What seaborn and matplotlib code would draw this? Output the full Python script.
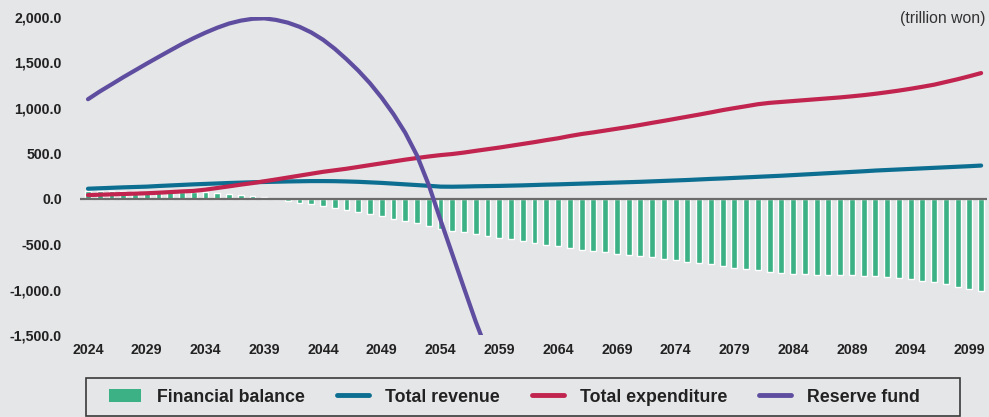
import numpy as np
import pandas as pd
import seaborn as sns
import matplotlib.pyplot as plt
from matplotlib.patches import Patch, Rectangle
from matplotlib.lines import Line2D

# anos 2024..2100
years = list(range(2024, 2101))

balance = [88, 86, 82, 82, 80, 76, 74, 74, 74, 76,
           78, 62, 50, 40, 28, 16, -8, -24, -45, -58,
           -80, -100, -126, -147, -169, -190, -222, -245, -270, -300,
           -332, -358, -370, -392, -406, -428, -447, -469, -491, -505,
           -524, -538, -560, -571, -590, -604, -615, -626, -637, -659,
           -670, -692, -703, -722, -744, -758, -769, -788, -802, -813,
           -824, -824, -835, -835, -835, -835, -846, -846, -857, -868,
           -879, -901, -912, -934, -967, -989, -1011]

revenue = [110, 115, 120, 125, 129, 133, 140, 146, 152, 158,
           163, 168, 173, 177, 181, 184, 187, 190, 192, 194,
           194, 193, 190, 186, 180, 174, 166, 158, 150, 142,
           133, 132, 134, 137, 139, 141, 144, 147, 151, 155,
           158, 162, 166, 170, 174, 178, 182, 186, 191, 196,
           201, 206, 212, 218, 223, 229, 235, 241, 247, 253,
           260, 267, 274, 281, 288, 295, 302, 310, 316, 322,
           328, 334, 340, 346, 352, 358, 365]

expenditure = [40, 44, 48, 52, 56, 60, 66, 73, 80, 86,
               100, 118, 136, 155, 172, 192, 212, 233, 254, 275,
               296, 313, 330, 350, 370, 390, 410, 430, 448, 465,
               480, 492, 508, 527, 545, 563, 583, 603, 623, 645,
               665, 690, 712, 730, 750, 770, 790, 812, 835, 857,
               880, 903, 926, 950, 975, 997, 1018, 1040, 1055, 1065,
               1075, 1085, 1095, 1105, 1115, 1127, 1140, 1155, 1172, 1190,
               1210, 1232, 1255, 1285, 1315, 1348, 1383]

# fundo de reserva so ate 2058 (depois se esgota)
reserve_years = list(range(2024, 2059))
reserve = [1095, 1180, 1258, 1337, 1412, 1487, 1560, 1632, 1703, 1768,
           1828, 1882, 1928, 1960, 1980, 1985, 1968, 1938, 1892, 1830,
           1750, 1650, 1535, 1410, 1270, 1110, 930, 725, 475, 150,
           -235, -610, -985, -1355, -1690]

tick_years = list(range(2024, 2100, 5))

bg = '#e5e6e8'
green = '#3bb185'
blue = '#0c6e91'
red = '#c1244f'
purple = '#5f4ea0'

sns.set_style('white', {'axes.facecolor': bg, 'figure.facecolor': bg})
plt.rcParams['font.family'] = ['Liberation Sans', 'DejaVu Sans']

W, H = 989, 417
fig = plt.figure(figsize=(W / 100, H / 100), dpi=100)
ax = fig.add_axes([80 / W, 1 - 335 / H, 907 / W, 318 / H])

sns.barplot(x=years, y=balance, native_scale=True, width=0.5, color=green,
            saturation=1, ax=ax, zorder=2)
ax.axhline(0, color='#6b6b6b', lw=1.6, zorder=3)
sns.lineplot(x=years, y=revenue, color=blue, lw=3, ax=ax, zorder=4)
sns.lineplot(x=years, y=expenditure, color=red, lw=3, ax=ax, zorder=5)
sns.lineplot(x=reserve_years, y=reserve, color=purple, lw=3, ax=ax, zorder=6)

ax.set_xlim(2023.32, 2100.5)
ax.set_ylim(-1500, 2000)
ax.set_yticks(np.arange(-1500, 2001, 500))
ax.set_yticklabels([f'{v:,.1f}' for v in np.arange(-1500, 2001, 500)])
ax.set_xticks(tick_years)
ax.set_xticklabels([str(y) for y in tick_years])
ax.tick_params(axis='y', length=0, pad=13, labelsize=10.2, labelcolor='#222222')
ax.tick_params(axis='x', length=0, pad=6, labelsize=10.2, labelcolor='#222222')
for lab in ax.get_xticklabels() + ax.get_yticklabels():
    lab.set_fontweight('bold')
sns.despine(ax=ax, left=True, bottom=True)
ax.set_xlabel('')
ax.set_ylabel('')

fig.text(985 / W, 1 - 19 / H, '(trillion won)', ha='right', va='center',
         fontsize=11.3, color='#333333')

# moldura da legenda desenhada a parte
fig.patches.append(Rectangle((86 / W, 1 - 416 / H), 874 / W, 38 / H,
                             transform=fig.transFigure, facecolor='none',
                             edgecolor='#3a3a3a', lw=1.2, zorder=1))

handles = [Patch(facecolor=green, edgecolor='none'),
           Line2D([0], [0], color=blue, lw=3.5),
           Line2D([0], [0], color=red, lw=3.5),
           Line2D([0], [0], color=purple, lw=3.5)]
labels = ['Financial balance', 'Total revenue', 'Total expenditure', 'Reserve fund']
leg = fig.legend(handles, labels, loc='center',
                 bbox_to_anchor=(514.5 / W, 1 - 397 / H),
                 ncol=4, frameon=False,
                 prop={'weight': 'bold', 'size': 12.8},
                 handlelength=1.8, handleheight=0.75, handletextpad=0.9,
                 columnspacing=1.8, borderpad=0, borderaxespad=0)
for t in leg.get_texts():
    t.set_color('#222222')

fig.savefig('out.png', dpi=100, facecolor=bg)
